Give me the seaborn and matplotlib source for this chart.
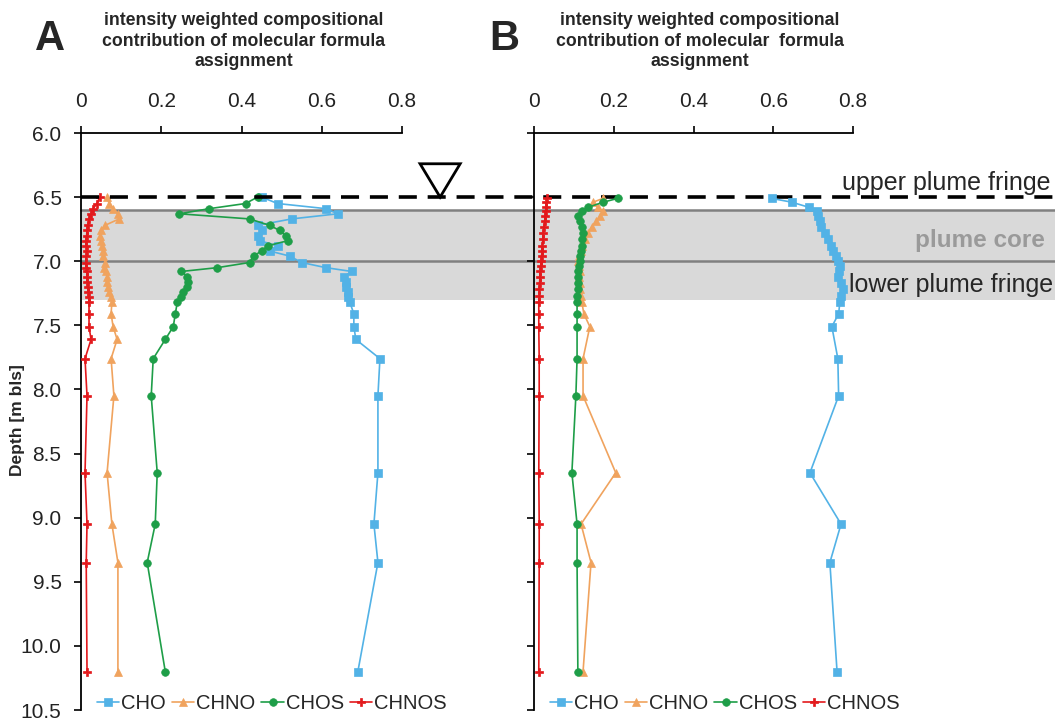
import numpy as np
import pandas as pd
import matplotlib
matplotlib.use("Agg")
import matplotlib.pyplot as plt
from matplotlib.patches import Rectangle, Polygon
from matplotlib.transforms import blended_transform_factory
import seaborn as sns

# ---------------- data ----------------
# Panel A: depth (m below land surface) and compositional share per class
depth_a = [6.50, 6.55, 6.59, 6.63, 6.67, 6.72, 6.76, 6.80, 6.84, 6.88,
           6.92, 6.96, 7.01, 7.05, 7.08, 7.12, 7.16, 7.20, 7.24, 7.28,
           7.32, 7.41, 7.51, 7.61, 7.76, 8.05, 8.65, 9.05, 9.35, 10.20]
cho_a = [0.45, 0.49, 0.61, 0.64, 0.525, 0.44, 0.45, 0.44, 0.445, 0.49,
         0.47, 0.52, 0.55, 0.61, 0.675, 0.655, 0.66, 0.66, 0.665, 0.665,
         0.67, 0.68, 0.68, 0.685, 0.745, 0.74, 0.74, 0.73, 0.74, 0.69]
chno_a = [0.065, 0.07, 0.08, 0.092, 0.095, 0.06, 0.05, 0.048, 0.05, 0.052,
          0.055, 0.055, 0.06, 0.058, 0.062, 0.065, 0.065, 0.068, 0.07, 0.074,
          0.077, 0.075, 0.08, 0.09, 0.075, 0.082, 0.065, 0.077, 0.092, 0.092]
chos_a = [0.44, 0.41, 0.32, 0.245, 0.42, 0.47, 0.495, 0.51, 0.515, 0.465,
          0.45, 0.43, 0.42, 0.34, 0.25, 0.265, 0.267, 0.265, 0.255, 0.25,
          0.24, 0.235, 0.23, 0.21, 0.18, 0.175, 0.19, 0.185, 0.165, 0.21]
chnos_a = [0.047, 0.04, 0.03, 0.025, 0.02, 0.017, 0.015, 0.014, 0.012, 0.013,
           0.015, 0.013, 0.012, 0.013, 0.015, 0.015, 0.016, 0.017, 0.018, 0.019,
           0.02, 0.02, 0.02, 0.025, 0.01, 0.015, 0.01, 0.015, 0.013, 0.015]

# Panel B
depth_b = [6.51, 6.54, 6.58, 6.61, 6.65, 6.69, 6.73, 6.78, 6.83, 6.88,
           6.92, 6.96, 7.00, 7.04, 7.08, 7.12, 7.17, 7.22, 7.27, 7.32,
           7.41, 7.51, 7.76, 8.05, 8.65, 9.05, 9.35, 10.20]
cho_b = [0.596, 0.647, 0.69, 0.709, 0.712, 0.716, 0.72, 0.73, 0.737, 0.746,
         0.75, 0.758, 0.762, 0.767, 0.765, 0.762, 0.77, 0.775, 0.77, 0.767,
         0.764, 0.747, 0.762, 0.764, 0.692, 0.77, 0.742, 0.76]
chno_b = [0.173, 0.148, 0.16, 0.173, 0.165, 0.155, 0.145, 0.135, 0.128, 0.12,
          0.118, 0.114, 0.11, 0.112, 0.115, 0.113, 0.115, 0.116, 0.118, 0.12,
          0.125, 0.14, 0.123, 0.123, 0.205, 0.118, 0.143, 0.123]
chos_b = [0.21, 0.173, 0.135, 0.12, 0.11, 0.115, 0.12, 0.123, 0.121, 0.12,
          0.118, 0.116, 0.115, 0.113, 0.11, 0.11, 0.11, 0.11, 0.109, 0.108,
          0.108, 0.108, 0.108, 0.105, 0.095, 0.108, 0.108, 0.11]
chnos_b = [0.032, 0.031, 0.03, 0.029, 0.028, 0.027, 0.025, 0.023, 0.022, 0.021,
           0.02, 0.019, 0.018, 0.017, 0.016, 0.015, 0.014, 0.013, 0.013, 0.012,
           0.012, 0.012, 0.013, 0.013, 0.012, 0.013, 0.013, 0.012]

classes = ["CHO", "CHNO", "CHOS", "CHNOS"]
x_ticks = [0, 0.2, 0.4, 0.6, 0.8]
x_tick_labels = ["0", "0.2", "0.4", "0.6", "0.8"]
y_ticks = [6.0, 6.5, 7.0, 7.5, 8.0, 8.5, 9.0, 9.5, 10.0, 10.5]

# plume zones (depth)
water_table = 6.5
plume_top, plume_mid, plume_bottom = 6.6, 7.0, 7.3

# ---------------- style ----------------
colors = {"CHO": "#52b2e6", "CHNO": "#f0a35e", "CHOS": "#1e9e48", "CHNOS": "#e3191c"}
markers = {"CHO": "s", "CHNO": "^", "CHOS": "o", "CHNOS": "P"}
msizes = {"CHO": 5.5, "CHNO": 6, "CHOS": 5.5, "CHNOS": 5.5}

sns.set_theme(style="white")
plt.rcParams["font.family"] = ["Liberation Sans", "DejaVu Sans"]

W, H = 1055, 720
fig = plt.figure(figsize=(W / 100, H / 100), dpi=100)
axA = fig.add_axes([81 / W, 1 - 710 / H, 321 / W, 577 / H])
axB = fig.add_axes([534 / W, 1 - 710 / H, 319 / W, 577 / H])
axB.patch.set_visible(False)


def long_frame(depth, series):
    frames = []
    for name, vals in zip(classes, series):
        frames.append(pd.DataFrame({"depth": depth, "share": vals, "class": name}))
    return pd.concat(frames, ignore_index=True)


dfA = long_frame(depth_a, [cho_a, chno_a, chos_a, chnos_a])
dfB = long_frame(depth_b, [cho_b, chno_b, chos_b, chnos_b])

# ---------------- plume zones (span both panels) ----------------
trans = blended_transform_factory(axA.transAxes, axA.transData)
x_end = (W - 81) / 321.0
axA.add_patch(Rectangle((0, plume_top), x_end, plume_bottom - plume_top,
                        transform=trans, facecolor="#d9d9d9", edgecolor="none",
                        zorder=0, clip_on=False))
for yv in (plume_top, plume_mid):
    axA.plot([0, x_end], [yv, yv], transform=trans, color="#808080",
             lw=1.8, zorder=1, clip_on=False)
axA.plot([0, x_end], [water_table, water_table], transform=trans, color="black",
         lw=2.6, dashes=(5, 3), zorder=5, clip_on=False)

# ---------------- profiles ----------------
for ax, df in ((axA, dfA), (axB, dfB)):
    for name in classes:
        sub = df[df["class"] == name]
        sns.lineplot(data=sub, x="share", y="depth", ax=ax, sort=False,
                     estimator=None, orient="y", color=colors[name],
                     marker=markers[name], markersize=msizes[name],
                     markeredgecolor=colors[name], markeredgewidth=0.5,
                     linewidth=1.2, label=name, zorder=3)

    ax.set_xlim(0, 0.8)
    ax.set_ylim(10.5, 6.0)
    ax.set_xlabel("")
    ax.set_ylabel("")
    ax.xaxis.tick_top()
    ax.set_xticks(x_ticks)
    ax.set_xticklabels(x_tick_labels)
    ax.set_yticks(y_ticks)
    ax.set_yticklabels([f"{v:.1f}" for v in y_ticks])
    for side in ("right", "bottom"):
        ax.spines[side].set_visible(False)
    for side in ("left", "top"):
        ax.spines[side].set_visible(True)
        ax.spines[side].set_color("black")
        ax.spines[side].set_linewidth(1.3)
    ax.tick_params(axis="x", top=True, bottom=False, direction="out", length=5,
                   width=1.2, color="black", labelsize=15, pad=11, labelcolor="#222222")
    ax.tick_params(axis="y", left=True, direction="out", length=5, width=1.2,
                   color="black", labelsize=15, pad=9, labelcolor="#222222")
    ax.grid(False)
    ax.legend(loc="lower left", bbox_to_anchor=(0.025, -0.02), ncol=4,
              frameon=False, fontsize=14.5, handlelength=1.1, handletextpad=0.1,
              columnspacing=0.3, borderaxespad=0)

axB.tick_params(axis="y", labelleft=False)

# water table symbol above the dashed line
wt_x = 0.895
axA.add_patch(Polygon([(wt_x - 0.05, 6.24), (wt_x + 0.05, 6.24), (wt_x, water_table)],
                      closed=True, facecolor="white", edgecolor="black", lw=2,
                      zorder=6, clip_on=False))

# ---------------- text ----------------
fig.text(50 / W, 1 - 39 / H, "A", ha="center", va="center", fontsize=30,
         weight="bold")
fig.text(504 / W, 1 - 39 / H, "B", ha="center", va="center", fontsize=30,
         weight="bold")
fig.text(244 / W, 1 - 41 / H,
         "intensity weighted compositional\ncontribution of molecular formula\nassignment",
         ha="center", va="center", fontsize=12.7, weight="bold", linespacing=1.3)
fig.text(700 / W, 1 - 41 / H,
         "intensity weighted compositional\ncontribution of molecular  formula\nassignment",
         ha="center", va="center", fontsize=12.7, weight="bold", linespacing=1.3)
fig.text(18 / W, 1 - 420 / H, "Depth [m bls]", rotation=90, ha="center",
         va="center", fontsize=12.5, weight="bold")

fig.text(1050 / W, 1 - 183 / H, "upper plume fringe", ha="right", va="center",
         fontsize=18)
fig.text(1045 / W, 1 - 241 / H, "plume core", ha="right", va="center",
         fontsize=17.5, weight="bold", color="#9a9a9a")
fig.text(1053 / W, 1 - 285 / H, "lower plume fringe", ha="right", va="center",
         fontsize=18)

fig.savefig("out.png", dpi=100)
